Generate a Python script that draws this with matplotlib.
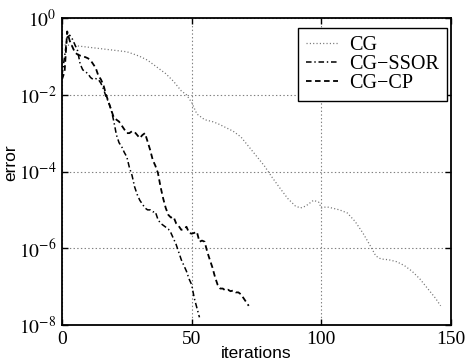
import matplotlib
matplotlib.use('Agg')
import matplotlib.pyplot as plt
import numpy as np

plt.rcParams['font.family'] = ['Liberation Serif', 'DejaVu Serif']
plt.rcParams['mathtext.fontset'] = 'stix'
plt.rcParams['lines.scale_dashes'] = False

# CG (plain): iteration and log10(error)
cg_iter = [1, 5, 10, 15, 20, 25, 28, 30, 33, 36, 40, 43, 46, 48, 50, 52, 55, 58,
           60, 63, 66, 69, 72, 75, 78, 81, 84, 87, 90, 92, 94, 97, 99, 100, 102,
           104, 107, 110, 113, 116, 119, 121, 123, 126, 129, 132, 135, 138, 141,
           144, 146]
cg_log_err = [-0.70, -0.72, -0.76, -0.80, -0.84, -0.88, -0.95, -1.00, -1.10, -1.25,
              -1.45, -1.65, -1.90, -2.00, -2.20, -2.50, -2.65, -2.70, -2.75, -2.85,
              -2.95, -3.10, -3.35, -3.60, -3.85, -4.15, -4.43, -4.70, -4.90, -4.95,
              -4.90, -4.75, -4.80, -4.95, -4.92, -4.95, -5.00, -5.08, -5.30, -5.60,
              -5.95, -6.20, -6.28, -6.30, -6.35, -6.45, -6.60, -6.80, -7.05, -7.30,
              -7.50]

# CG-SSOR
ssor_iter = list(range(0, 54))
ssor_log_err = [-1.50, -1.00, -0.50, -0.45, -0.55, -0.70, -0.85, -1.20, -1.35, -1.40,
                -1.45, -1.55, -1.60, -1.58, -1.60, -1.70, -1.85, -2.05, -2.20, -2.40,
                -2.70, -3.05, -3.25, -3.35, -3.50, -3.62, -3.90, -4.10, -4.40, -4.60,
                -4.75, -4.85, -4.95, -5.00, -5.00, -5.05, -5.05, -5.25, -5.35, -5.40,
                -5.45, -5.50, -5.60, -5.75, -5.90, -6.10, -6.30, -6.45, -6.60, -6.80,
                -6.95, -7.30, -7.55, -7.80]

# CG-CP
cp_iter = list(range(0, 73))
cp_log_err = [-1.60, -1.40, -0.35, -0.60, -0.75, -0.90, -0.95, -0.98, -1.00, -1.02,
              -1.05, -1.10, -1.20, -1.30, -1.50, -1.60, -1.75, -2.00, -2.20, -2.40,
              -2.60, -2.65, -2.70, -2.80, -2.90, -3.00, -3.00, -2.95, -2.97, -3.05,
              -3.13, -3.05, -3.00, -3.22, -3.44, -3.70, -3.85, -4.04, -4.40, -4.70,
              -4.95, -5.13, -5.20, -5.18, -5.35, -5.42, -5.52, -5.50, -5.44, -5.60,
              -5.62, -5.60, -5.57, -5.83, -5.80, -5.83, -6.09, -6.30, -6.50, -6.75,
              -6.95, -7.05, -7.05, -7.10, -7.08, -7.12, -7.10, -7.15, -7.15, -7.20,
              -7.30, -7.40, -7.50]

labels = ['CG', 'CG\u2212SSOR', 'CG\u2212CP']
x_ticks = [0, 50, 100, 150]
y_ticks = [1e-8, 1e-6, 1e-4, 1e-2, 1e0]
y_ticklabels = [r'$10^{-8}$', r'$10^{-6}$', r'$10^{-4}$', r'$10^{-2}$', r'$10^{0}$']

fig = plt.figure(figsize=(4.66, 3.64), dpi=100)
ax = fig.add_axes([62 / 466, 1 - 325 / 364, (451 - 62) / 466, (325 - 18) / 364])

ax.semilogy(cg_iter, 10.0 ** np.array(cg_log_err), color='0.45', lw=0.9,
            dashes=(0.8, 1.6), label=labels[0])
ax.semilogy(ssor_iter, 10.0 ** np.array(ssor_log_err), color='black', lw=1.1,
            dashes=(4, 2, 1, 2), label=labels[1])
ax.semilogy(cp_iter, 10.0 ** np.array(cp_log_err), color='black', lw=1.3,
            dashes=(4, 2.5), label=labels[2])

ax.set_xlim(0, 150)
ax.set_ylim(1e-8, 1e0)
ax.set_xticks(x_ticks)
ax.set_yticks(y_ticks)
ax.set_yticklabels(y_ticklabels)
ax.yaxis.set_minor_locator(matplotlib.ticker.NullLocator())
ax.tick_params(direction='in', top=True, right=True, length=4, width=1,
               labelsize=14, pad=4)
ax.grid(True, color='0.5', linestyle=':', linewidth=0.8)
for s in ax.spines.values():
    s.set_linewidth(1.3)

ax.set_xlabel('iterations', family=['Liberation Sans'], fontsize=12.5, labelpad=-1)
ax.set_ylabel('error', family=['Liberation Sans'], fontsize=12.5)
ax.yaxis.set_label_coords(-0.113, 0.53)

leg = ax.legend(loc='upper right', bbox_to_anchor=(447 / 466, 1 - 28 / 364),
                bbox_transform=fig.transFigure, borderaxespad=0,
                fontsize=14.5, fancybox=False, framealpha=1, edgecolor='black',
                handlelength=1.6, borderpad=0.4, labelspacing=0.0,
                handletextpad=0.55)
leg.get_frame().set_linewidth(1.0)

fig.savefig('out.png', dpi=100)
